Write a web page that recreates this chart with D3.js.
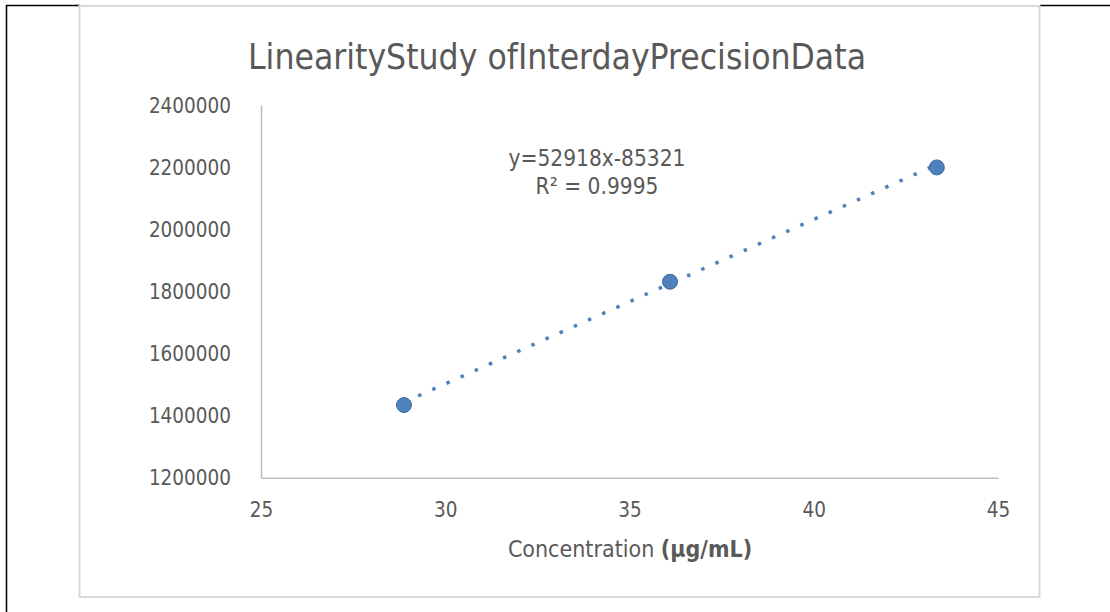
<!DOCTYPE html>
<html><head><meta charset="utf-8">
<script src="https://cdn.jsdelivr.net/npm/d3@7"></script>
<style>body{margin:0;background:#fff}svg{display:block}</style>
</head><body>
<script>
const concentrations = [28.88, 36.10, 43.34];
const responses = [1434000, 1831000, 2199000];
const xTicks = [25, 30, 35, 40, 45];
const yTicks = [1200000, 1400000, 1600000, 1800000, 2000000, 2200000, 2400000];
const trendSlope = [52918];
const trendIntercept = [-85321];
const titleText = "LinearityStudy ofInterdayPrecisionData";
const eqLines = ["y=52918x-85321", "R\u00b2 = 0.9995"];

const W = 1110, H = 612;
const svg = d3.select("body").append("svg").attr("width", W).attr("height", H);
const font = "'DejaVu Sans Condensed','DejaVu Sans',sans-serif";
const txt = "#595959";
const blue = "#4f81bd";

// outer black frame pieces
svg.append("path").attr("d", "M6.5,612 V5.5 H80 M1040,5.5 H1110")
  .attr("fill","none").attr("stroke","#000").attr("stroke-width",1.5);
// chart area
svg.append("rect").attr("x",79.5).attr("y",6).attr("width",960).attr("height",591)
  .attr("fill","#fff").attr("stroke","#d9d9d9").attr("stroke-width",2);

const x = d3.scaleLinear().domain([25,45]).range([261,998]);
const y = d3.scaleLinear().domain([1200000,2400000]).range([477.7,105]);

// axes
const xa = svg.append("g").attr("transform","translate(0,477.7)")
  .call(d3.axisBottom(x).tickValues(xTicks).tickSize(0).tickPadding(21));
const ya = svg.append("g").attr("transform","translate(261,0)")
  .call(d3.axisLeft(y).tickValues(yTicks).tickSize(0).tickPadding(30).tickFormat(d3.format("d")));
[xa,ya].forEach(g=>{
  g.select(".domain").attr("stroke","#bfbfbf").attr("stroke-width",1.5);
  g.selectAll("text").attr("fill",txt).style("font-family",font).style("font-size","20.5px");
});
xa.selectAll("text").attr("dy","0.9em");
ya.selectAll("text").attr("dy","0.35em");

// trendline
const x0 = d3.min(concentrations), x1 = d3.max(concentrations);
const f = v => trendSlope[0]*v + trendIntercept[0];
svg.append("line")
  .attr("x1",x(x0)).attr("y1",y(f(x0))).attr("x2",x(x1)).attr("y2",y(f(x1)))
  .attr("stroke",blue).attr("stroke-width",3.5).attr("stroke-dasharray","3.5,12");

// points
svg.selectAll("circle.pt").data(concentrations).enter().append("circle")
  .attr("class","pt")
  .attr("cx",d=>x(d)).attr("cy",(d,i)=>y(responses[i])).attr("r",7.5)
  .attr("fill",blue).attr("stroke","#3d6a9e").attr("stroke-width",1);

// title
svg.append("text").attr("x",557).attr("y",69).attr("text-anchor","middle")
  .attr("fill",txt).style("font-family",font).style("font-size","35px")
  .attr("textLength",618).attr("lengthAdjust","spacingAndGlyphs")
  .text(titleText);

// equation
svg.append("text").attr("x",597).attr("y",166).attr("text-anchor","middle")
  .attr("fill",txt).style("font-family",font).style("font-size","22.5px").text(eqLines[0]);
svg.append("text").attr("x",597).attr("y",194).attr("text-anchor","middle")
  .attr("fill",txt).style("font-family",font).style("font-size","22.5px").text(eqLines[1]);

// x axis title
const xt = svg.append("text").attr("x",630).attr("y",557).attr("text-anchor","middle")
  .attr("fill",txt).style("font-family",font).style("font-size","23px");
xt.append("tspan").text("Concentration ");
xt.append("tspan").attr("font-weight","bold").text("(\u03bcg/mL)");
</script>
</body></html>
